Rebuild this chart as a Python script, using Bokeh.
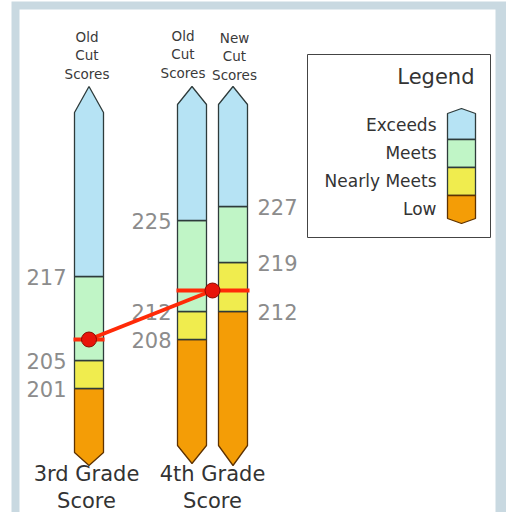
from bokeh.plotting import figure
from bokeh.models import Range1d
from bokeh.core.properties import value
from bokeh.embed import file_html
from bokeh.resources import INLINE

# ---------------- data ----------------
columns = ["3rd Grade Old", "4th Grade Old", "4th Grade New"]
headers = [["Old", "Cut", "Scores"], ["Old", "Cut", "Scores"], ["New", "Cut", "Scores"]]
cut_low = [201, 208, 212]      # Low / Nearly Meets boundary
cut_nearly = [205, 212, 219]   # Nearly Meets / Meets boundary
cut_meets = [217, 225, 227]    # Meets / Exceeds boundary
score_3rd = 208
score_4th = 215
levels = ["Exceeds", "Meets", "Nearly Meets", "Low"]
grade_labels = [["3rd Grade", "Score"], ["4th Grade", "Score"]]

# ---------------- style / layout ----------------
C_BLUE = "#b6e3f4"
C_GREEN = "#c0f5c6"
C_YELLOW = "#f0ec4e"
C_ORANGE = "#f49d06"
C_LINE = "#2e3b3b"
C_OLINE = "#5e3200"
C_RED = "#ff2a08"
FONT = value("DejaVu Sans")

def vy(Y):
    # reference pixel row -> score value
    return (1795.0 - Y) / 7.0

col_cx = [88.5, 191.5, 232.5]
col_w = 29.0
top_shoulder = [vy(112), vy(104), vy(104)]
top_apex = [vy(86), vy(86), vy(86)]
bot_shoulder = [vy(452), vy(445), vy(445)]
bot_point = [vy(465), vy(463), vy(465)]

W, H = 506, 512
p = figure(width=W, height=H, output_backend="svg", toolbar_location=None,
           x_range=Range1d(0, W), y_range=Range1d(vy(H), vy(0)),
           min_border=0, outline_line_color=None)
p.axis.visible = False
p.grid.visible = False
p.background_fill_color = "white"
p.border_fill_color = "white"

# frame
p.quad(left=[11], right=[520], bottom=[vy(530)], top=[vy(1)], fill_color="#c9d9e1", line_color=None)
p.quad(left=[19], right=[495], bottom=[vy(530)], top=[vy(9)], fill_color="white", line_color=None)

# columns
xs, ys, fills, lines = [], [], [], []
for i in range(len(columns)):
    l = col_cx[i] - col_w / 2
    r = col_cx[i] + col_w / 2
    c = col_cx[i]
    xs.append([l, r, r, c, l]); ys.append([cut_low[i], cut_low[i], bot_shoulder[i], bot_point[i], bot_shoulder[i]])
    fills.append(C_ORANGE); lines.append(C_OLINE)
    xs.append([l, r, r, l]); ys.append([cut_low[i], cut_low[i], cut_nearly[i], cut_nearly[i]])
    fills.append(C_YELLOW); lines.append(C_LINE)
    xs.append([l, r, r, l]); ys.append([cut_nearly[i], cut_nearly[i], cut_meets[i], cut_meets[i]])
    fills.append(C_GREEN); lines.append(C_LINE)
    xs.append([l, r, r, c, l]); ys.append([cut_meets[i], cut_meets[i], top_shoulder[i], top_apex[i], top_shoulder[i]])
    fills.append(C_BLUE); lines.append(C_LINE)
p.patches(xs=xs, ys=ys, fill_color=fills, line_color=lines, line_width=1.3)

# cut score labels
lab_x = [66, 171, 257]
lab_align = ["right", "right", "left"]
for i in range(len(columns)):
    vals = [cut_meets[i], cut_nearly[i], cut_low[i]]
    p.text(x=[lab_x[i]] * 3, y=vals, text=[str(v) for v in vals],
           text_font=FONT, text_font_size="21px", text_color="#8c8c8c",
           text_align=lab_align[i], text_baseline="middle")

# headers
hdr_x = [86.5, 182.5, 234]
hdr_y = [[36, 54, 73], [35, 53, 72], [37, 55, 74]]
for i in range(len(columns)):
    p.text(x=[hdr_x[i]] * 3, y=[vy(Y) for Y in hdr_y[i]], text=headers[i],
           text_font=FONT, text_font_size="13.5px", text_color="#3a3a3a",
           text_align="center", text_baseline="middle")

# grade labels
gl_x = [86, 212]
for i in range(2):
    p.text(x=[gl_x[i]] * 2, y=[vy(473), vy(500)], text=grade_labels[i],
           text_font=FONT, text_font_size="21px", text_color="#333333",
           text_align="center", text_baseline="middle")

# score line
dot_x = [col_cx[0], (col_cx[1] + col_cx[2]) / 2]
p.line(x=dot_x, y=[score_3rd, score_4th], line_color=C_RED, line_width=4)
p.segment(x0=[73, 176], x1=[104, 249], y0=[score_3rd, score_4th], y1=[score_3rd, score_4th],
          line_color=C_RED, line_width=4)
p.scatter(x=dot_x, y=[score_3rd, score_4th], size=15, fill_color="#e8140a", line_color="#8a0a00", line_width=1)

# legend box
p.quad(left=[307], right=[490], bottom=[vy(237)], top=[vy(54)], fill_color="white",
       line_color="#444444", line_width=1)
p.text(x=[474], y=[vy(76)], text=["Legend"], text_font=FONT, text_font_size="21px",
       text_color="#333333", text_align="right", text_baseline="middle")
p.text(x=[436] * 4, y=[vy(Y) for Y in [124, 152, 180, 208]], text=levels,
       text_font=FONT, text_font_size="17px", text_color="#333333",
       text_align="right", text_baseline="middle")
ll, lr, lc = 447, 475, 461
bnd = [vy(Y) for Y in [113, 139, 167, 195, 218]]
lxs = [[ll, lr, lr, lc, ll], [ll, lr, lr, ll], [ll, lr, lr, ll], [ll, lr, lr, lc, ll]]
lys = [[bnd[1], bnd[1], bnd[0], vy(108), bnd[0]],
       [bnd[1], bnd[1], bnd[2], bnd[2]],
       [bnd[2], bnd[2], bnd[3], bnd[3]],
       [bnd[3], bnd[3], bnd[4], vy(223), bnd[4]]]
p.patches(xs=lxs, ys=lys, fill_color=[C_BLUE, C_GREEN, C_YELLOW, C_ORANGE],
          line_color=[C_LINE, C_LINE, C_LINE, C_OLINE], line_width=1.3)

open("out.html", "w").write(file_html(p, INLINE))
